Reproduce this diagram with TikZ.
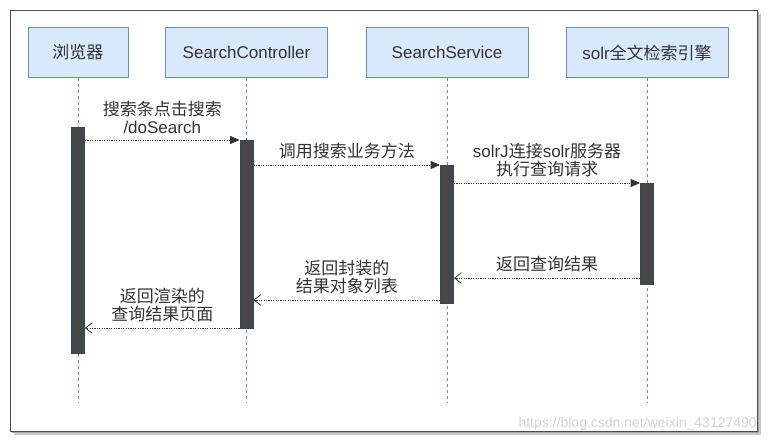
\documentclass[tikz,border=0pt]{standalone}
\usepackage{fontspec}
\setmainfont{Liberation Sans}
\newfontfamily\cjk{Noto Sans CJK SC}
\newcommand\zh[1]{{\cjk #1}}
\usetikzlibrary{arrows.meta}
\definecolor{hdrfill}{HTML}{DAE8FC}
\definecolor{hdrline}{HTML}{6C8EBF}
\definecolor{barfill}{HTML}{474747}
\definecolor{barline}{HTML}{2F4A60}
\definecolor{txt}{HTML}{333333}
\begin{document}
\begin{tikzpicture}[x=0.75pt, y=-0.75pt,
  font=\fontsize{12.75}{13.5}\selectfont, text=txt,
  hdr/.style={draw=hdrline, fill=hdrfill, line width=0.75pt, minimum height=38pt, inner sep=0pt},
  bar/.style={draw=barline, fill=barfill, line width=0.75pt, minimum width=9.75pt, inner sep=0pt},
  life/.style={draw=hdrline, line width=0.75pt, dash pattern=on 2.25pt off 2.25pt},
  call/.style={draw=txt, line width=0.6pt, dash pattern=on 0.9pt off 0.9pt, -{Triangle[length=7pt, width=6pt]}},
  ret/.style={draw=txt, line width=0.6pt, dash pattern=on 0.9pt off 0.9pt, -{Straight Barb[length=5pt, width=8pt]}},
  msg/.style={above, align=center, inner sep=0pt, yshift=4.5pt}]
\useasboundingbox (0,0) rectangle (769,443);
% frame
\fill[black!22] (14,14) rectangle (761,435);
\fill[black!35] (12,12) rectangle (759,433);
\draw[draw=black!70, fill=white, line width=0.75pt] (10,10) rectangle (757,431);
% heads
\node[hdr, minimum width=75pt] (browser) at (78,52.5) {\zh{浏览器}};
\node[hdr, minimum width=122pt] (ctrl) at (246.5,52.5) {SearchController};
\node[hdr, minimum width=121.5pt] (service) at (447,52.5) {SearchService};
\node[hdr, minimum width=121.5pt] (solr) at (647,52.5) {solr\zh{全文检索引擎}};
% lifelines
\coordinate (e0) at (0,403);
\draw[life] (browser.south) -- (browser.south |- e0);
\draw[life] (ctrl.south) -- (ctrl.south |- e0);
\draw[life] (service.south) -- (service.south |- e0);
\draw[life] (solr.south) -- (solr.south |- e0);
% activations
\node[bar, minimum height=169.5pt] (act0) at (78,240) {};
\node[bar, minimum height=141pt] (act1) at (246.5,234) {};
\node[bar, minimum height=103.5pt] (act2) at (447,234) {};
\node[bar, minimum height=75.75pt] (act3) at (647,233.5) {};
% messages
\coordinate (m1) at (0,140);
\coordinate (m2) at (0,165);
\coordinate (m3) at (0,183);
\coordinate (m4) at (0,278);
\coordinate (m5) at (0,300);
\coordinate (m6) at (0,328);
\draw[call] (act0.east |- m1) -- node[msg] {\zh{搜索条点击搜索}\\/doSearch} (act1.west |- m1);
\draw[call] (act1.east |- m2) -- node[msg] {\zh{调用搜索业务方法}} (act2.west |- m2);
\draw[call] (act2.east |- m3) -- node[msg] {solrJ\zh{连接}solr\zh{服务器}\\\zh{执行查询请求}} (act3.west |- m3);
\draw[ret] (act3.west |- m4) -- node[msg] {\zh{返回查询结果}} (act2.east |- m4);
\draw[ret] (act2.west |- m5) -- node[msg] {\zh{返回封装的}\\\zh{结果对象列表}} (act1.east |- m5);
\draw[ret] (act1.west |- m6) -- node[msg] {\zh{返回渲染的}\\\zh{查询结果页面}} (act0.east |- m6);
% watermark
\node[anchor=south east, inner sep=0pt, text=black!18, font=\fontsize{10.5}{12}\selectfont] (mark) at (757,431) {https://blog.csdn.net/weixin\_43127490};
\end{tikzpicture}
\end{document}
